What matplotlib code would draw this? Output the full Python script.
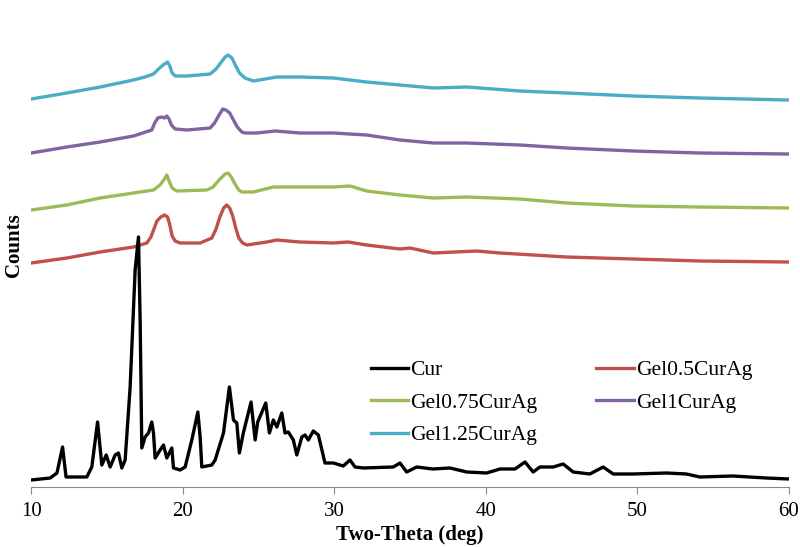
import matplotlib.pyplot as plt

plt.rcParams['font.family'] = ['Liberation Serif', 'DejaVu Serif']

# two-theta (deg) / counts (arb.)
cur_x = [10.0, 11.25, 11.7, 12.07, 12.3, 13.67, 14.0, 14.38, 14.66, 14.95, 15.21, 15.54,
         15.76, 15.98, 16.2, 16.53, 16.86, 17.08, 17.19, 17.3, 17.52, 17.74, 17.96, 18.07,
         18.18, 18.51, 18.73, 18.95, 19.28, 19.39, 19.83, 20.16, 20.6, 21.0, 21.15, 21.26,
         21.92, 22.14, 22.69, 23.08, 23.35, 23.57, 23.74, 24.0, 24.51, 24.78, 24.95, 25.48,
         25.72, 25.98, 26.21, 26.54, 26.75, 26.97, 27.3, 27.53, 27.86, 28.07, 28.29, 28.62,
         28.95, 29.39, 29.94, 30.6, 31.04, 31.37, 31.92, 33.9, 34.34, 34.78, 35.44, 36.5,
         37.64, 38.74, 40.06, 40.94, 41.93, 42.59, 43.13, 43.57, 44.45, 45.11, 45.77, 46.87,
         47.75, 48.41, 49.73, 51.93, 53.25, 54.13, 56.3, 58.5, 60.0]
cur_y = [7, 9, 14, 40, 10, 10, 20, 65, 22, 32, 20, 32,
         34, 19, 27, 100, 217, 250, 167, 39, 50, 54, 65, 54,
         29, 37, 42, 29, 39, 19, 17, 20, 47, 75, 50, 20,
         22, 27, 54, 100, 67, 64, 34, 54, 85, 47, 65, 84,
         54, 67, 60, 74, 54, 55, 47, 32, 50, 52, 47, 56,
         52, 24, 24, 21, 27, 20, 19, 20, 24, 15, 20, 18,
         19, 15, 14, 18, 18, 25, 15, 20, 20, 23, 15, 13,
         20, 13, 13, 14, 13, 10, 11, 9, 8]

gel05_x = [10.0, 12.35, 14.55, 16.75, 17.63, 17.9, 18.1, 18.3, 18.55, 18.8, 19.0, 19.15,
           19.3, 19.5, 19.83, 21.15, 21.92, 22.2, 22.45, 22.7, 22.9, 23.1, 23.3, 23.5,
           23.7, 23.95, 24.23, 25.55, 26.21, 27.74, 29.94, 30.93, 32.14, 34.34, 35.0,
           36.54, 39.4, 40.94, 45.33, 49.73, 54.13, 60.0]
gel05_y = [224, 229, 235, 240, 244, 250, 258, 266, 270, 272, 270, 262,
           251, 246, 244, 244, 249, 258, 270, 279, 282, 279, 271, 259,
           249, 244, 242, 245, 247, 245, 244, 245, 242, 238, 239,
           234, 236, 234, 230, 228, 226, 225]

gel075_x = [10.0, 12.35, 14.55, 16.75, 18.07, 18.5, 18.8, 18.95, 19.1, 19.3, 19.6,
            21.59, 22.0, 22.4, 22.8, 23.0, 23.2, 23.45, 23.7, 23.9, 24.67, 25.98,
            27.74, 29.94, 31.04, 32.14, 34.34, 36.54, 38.74, 42.26, 45.33, 49.73,
            54.13, 60.0]
gel075_y = [277, 282, 289, 294, 297, 302, 308, 312, 306, 299, 296,
            297, 300, 307, 313, 314, 310, 303, 297, 295, 295, 300,
            300, 300, 301, 296, 292, 289, 290, 288, 284, 281,
            280, 279]

gel1_x = [10.0, 12.35, 14.55, 16.75, 17.96, 18.15, 18.35, 18.6, 18.8, 18.95, 19.1,
          19.25, 19.5, 20.27, 21.81, 22.1, 22.4, 22.65, 22.85, 23.1, 23.35, 23.6,
          23.9, 24.12, 24.9, 26.1, 27.74, 29.94, 32.14, 34.34, 36.54, 38.74, 42.26,
          45.33, 49.73, 54.13, 60.0]
gel1_y = [334, 340, 345, 351, 357, 364, 369, 370, 369, 371, 368,
          362, 358, 357, 359, 364, 372, 378, 377, 374, 367, 360,
          355, 354, 354, 356, 354, 354, 352, 347, 344, 344, 342,
          339, 336, 334, 333]

gel125_x = [10.0, 12.35, 14.55, 16.75, 17.5, 18.07, 18.4, 18.7, 19.0, 19.15, 19.3,
            19.5, 20.27, 21.81, 22.2, 22.5, 22.8, 23.0, 23.25, 23.5, 23.75, 24.1,
            24.67, 26.21, 27.74, 29.94, 32.14, 34.34, 36.54, 38.74, 42.26, 45.33,
            49.73, 54.13, 60.0]
gel125_y = [388, 394, 400, 407, 410, 413, 418, 422, 425, 421, 414,
            411, 411, 413, 418, 424, 430, 432, 429, 421, 414, 409,
            406, 410, 410, 409, 405, 402, 399, 400, 396, 394,
            391, 389, 387]

fig = plt.figure(figsize=(8, 5.47), dpi=100)
ax = fig.add_axes([0.039, 0.1097, 0.947, 0.8848])

lw = 2.4
l_05, = ax.plot(gel05_x, gel05_y, color='#C0504D', lw=lw, label='Gel0.5CurAg')
l_075, = ax.plot(gel075_x, gel075_y, color='#9BBB59', lw=lw, label='Gel0.75CurAg')
l_1, = ax.plot(gel1_x, gel1_y, color='#8064A2', lw=lw, label='Gel1CurAg')
l_125, = ax.plot(gel125_x, gel125_y, color='#4BACC6', lw=lw, label='Gel1.25CurAg')
l_cur, = ax.plot(cur_x, cur_y, color='#000000', lw=lw, label='Cur', zorder=3)

ax.set_xlim(10, 60)
ax.set_ylim(0, 484)
ax.set_xticks([10, 20, 30, 40, 50, 60])
ax.set_yticks([])
for side in ['top', 'right', 'left']:
    ax.spines[side].set_visible(False)
ax.spines['bottom'].set_color('#888888')
ax.tick_params(axis='x', direction='out', length=5, color='#888888', labelsize=15, pad=6)

ax.set_xlabel('Two-Theta (deg)', fontsize=15, fontweight='bold', labelpad=3)
ax.set_ylabel('Counts', fontsize=15, fontweight='bold', labelpad=5)

ax.legend([l_cur, l_075, l_125, l_05, l_1],
          ['Cur', 'Gel0.75CurAg', 'Gel1.25CurAg', 'Gel0.5CurAg', 'Gel1CurAg'],
          ncol=2, frameon=False, fontsize=15.5, loc='upper left',
          bbox_to_anchor=(0.4485, 0.262), borderaxespad=0, borderpad=0,
          handlelength=1.72, handletextpad=0.1, columnspacing=2.75, labelspacing=0.58)

fig.savefig('out.png', dpi=100)
